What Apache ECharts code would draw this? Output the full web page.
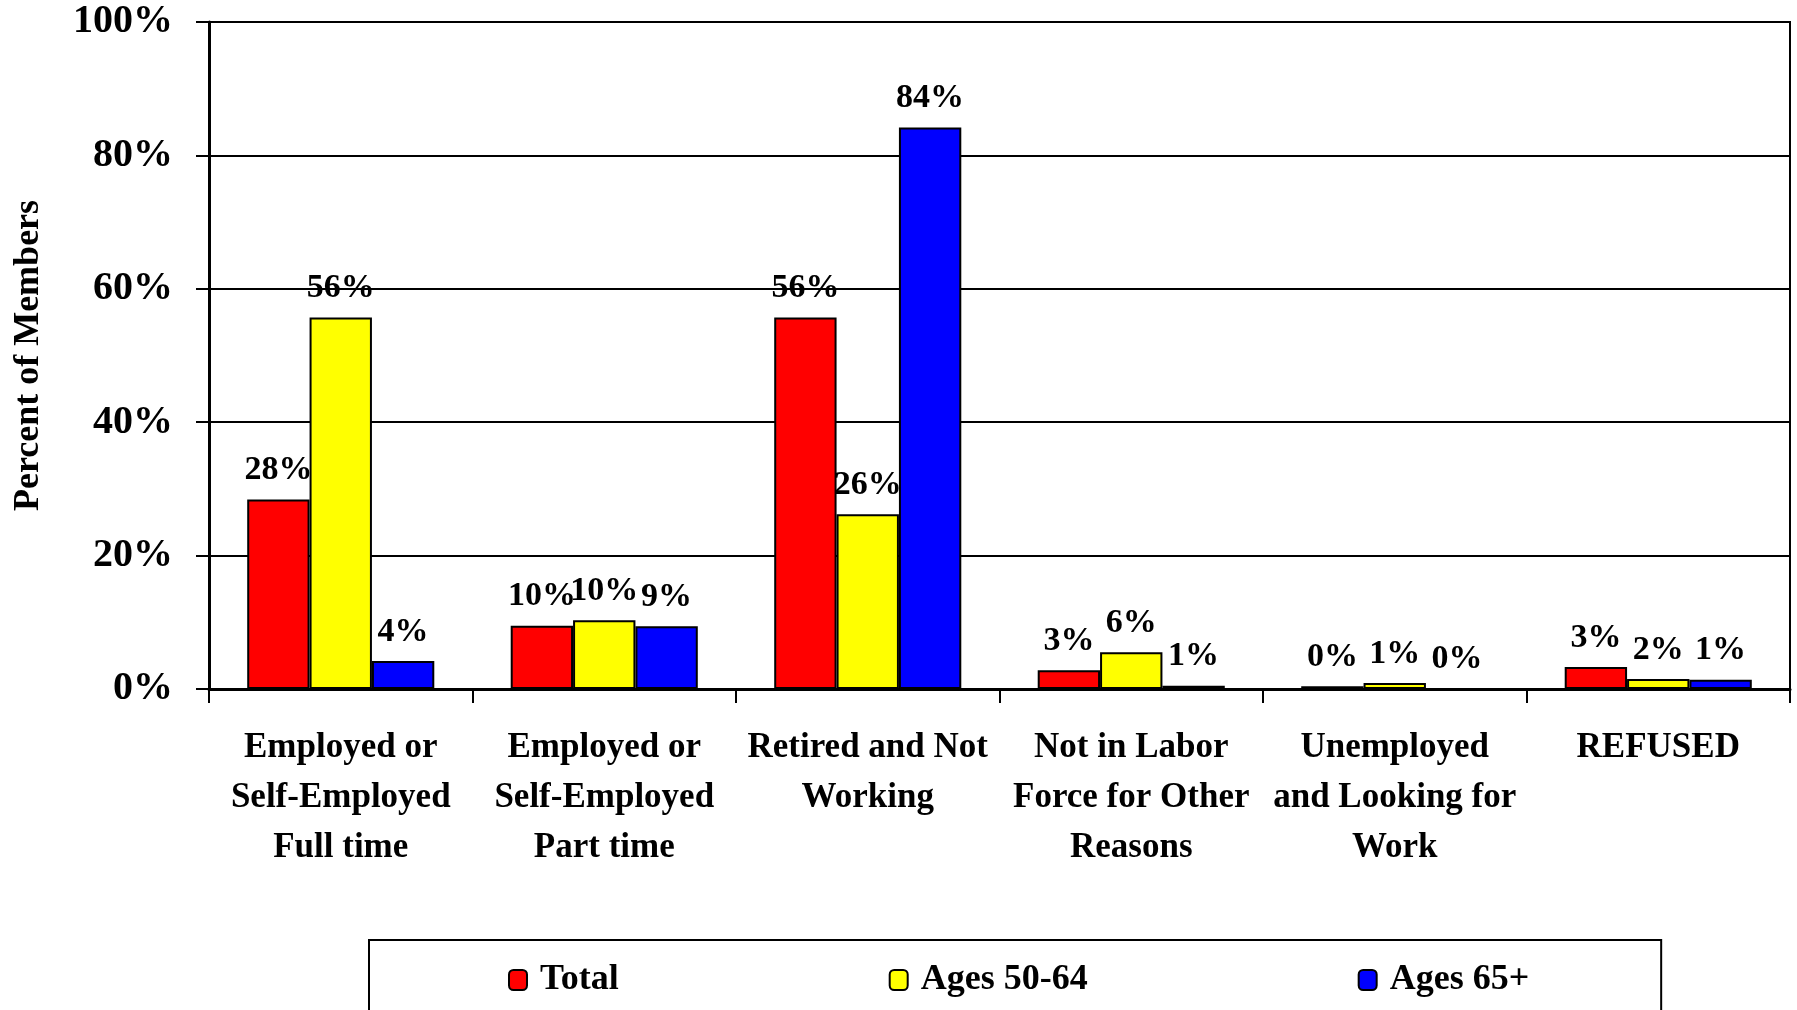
<!DOCTYPE html>
<html>
<head>
<meta charset="utf-8">
<script src="https://cdn.jsdelivr.net/npm/echarts@6/dist/echarts.min.js"></script>
<style>
html,body{margin:0;padding:0;background:#fff;}
#chart{width:1797px;height:1010px;}
</style>
</head>
<body>
<div id="chart"></div>
<script>
const categories = [
  "Employed or\nSelf-Employed\nFull time",
  "Employed or\nSelf-Employed\nPart time",
  "Retired and Not\nWorking",
  "Not in Labor\nForce for Other\nReasons",
  "Unemployed\nand Looking for\nWork",
  "REFUSED"
];
const seriesNames = ["Total", "Ages 50-64", "Ages 65+"];
const totalValues = [28.4, 9.5, 55.7, 2.8, 0.4, 3.3];
const ages5064Values = [55.7, 10.3, 26.2, 5.5, 0.9, 1.5];
const ages65Values = [4.2, 9.4, 84.2, 0.5, 0, 1.4];
const yTicks = [0, 20, 40, 60, 80, 100];

const FONT = '"Liberation Serif", "Times New Roman", serif';
const colors = ["#FF0000", "#FFFF00", "#0000FF"];
const valueSets = [totalValues, ages5064Values, ages65Values];

const chart = echarts.init(document.getElementById('chart'));
chart.setOption({
  animation: false,
  backgroundColor: '#fff',
  textStyle: { fontFamily: FONT, fontWeight: 'bold', color: '#000' },
  grid: {
    left: 209, right: 7, top: 22, bottom: 321,
    containLabel: false, outerBoundsMode: 'none',
    show: true, borderColor: '#000', borderWidth: 2, backgroundColor: 'transparent'
  },
  legend: {
    left: 369, top: 940,
    padding: [22, 132, 60, 139],
    borderColor: '#000', borderWidth: 2,
    itemWidth: 18, itemHeight: 20, itemGap: 270,
    textStyle: { fontFamily: FONT, fontWeight: 'bold', fontSize: 36, color: '#000', padding: [0, 0, 0, 8] },
    data: seriesNames
  },
  xAxis: {
    type: 'category',
    data: categories,
    axisLine: { lineStyle: { color: '#000', width: 3 } },
    axisTick: { show: true, length: 14, lineStyle: { color: '#000', width: 2 } },
    axisLabel: {
      interval: 0, margin: 34, fontFamily: FONT, fontWeight: 'bold',
      fontSize: 35, lineHeight: 50, color: '#000'
    }
  },
  yAxis: {
    type: 'value', min: 0, max: 100, interval: 20,
    name: 'Percent of Members', nameLocation: 'middle', nameGap: 162,
    nameTextStyle: { fontFamily: FONT, fontWeight: 'bold', fontSize: 36, color: '#000' },
    axisLine: { show: true, lineStyle: { color: '#000', width: 3 } },
    axisTick: { show: true, length: 13, lineStyle: { color: '#000', width: 2 } },
    axisLabel: {
      margin: 36, fontFamily: FONT, fontWeight: 'bold', fontSize: 40, color: '#000',
      formatter: v => yTicks.includes(v) ? v + '%' : ''
    },
    splitLine: { show: true, lineStyle: { color: '#000', width: 2 } }
  },
  series: seriesNames.map((name, i) => ({
    name: name,
    type: 'bar',
    data: valueSets[i],
    barGap: '0%',
    barCategoryGap: '29%',
    itemStyle: { color: colors[i], borderColor: '#000', borderWidth: 2 },
    label: {
      show: true, position: 'top', distance: 12,
      fontFamily: FONT, fontWeight: 'bold', fontSize: 34, color: '#000',
      formatter: p => Math.round(p.value) + '%'
    }
  }))
});
</script>
</body>
</html>
